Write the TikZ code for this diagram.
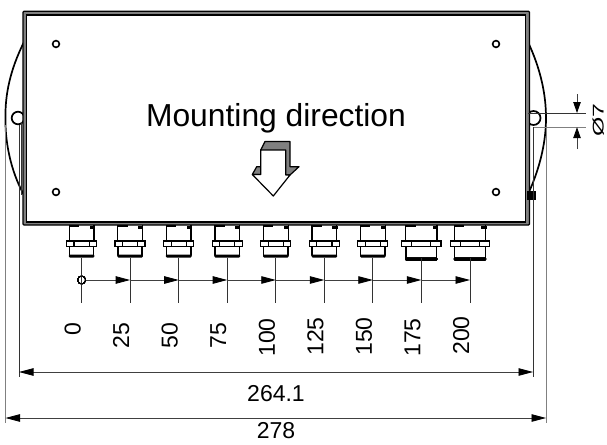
\documentclass[tikz,border=0pt]{standalone}
\usepackage{fontspec}
\setmainfont{Liberation Sans}
\usetikzlibrary{arrows.meta}
\tikzset{
  dimline/.style={line width=0.8pt,black!75},
  extline/.style={line width=0.8pt,black!80},
  greyline/.style={line width=1pt,black!50},
  dimarrow/.style={dimline,-{Triangle[length=14.5pt,width=7.5pt,fill=black,color=black]}},
  dimboth/.style={dimline,{Triangle[length=14.5pt,width=7.5pt,fill=black,color=black]}-{Triangle[length=14.5pt,width=7.5pt,fill=black,color=black]}},
  label/.style={font=\fontsize{23}{25}\selectfont,inner sep=0pt},
  rotlabel/.style={label,rotate=90,anchor=base east},
  heavy/.style={line width=1.7pt,black,line join=round},
  hole/.style={line width=1.7pt,black,fill=white}
}
\newcommand{\gland}[5]{% x, body half-width, flange half-width, inner half-width, bottom y
  \begin{scope}[shift={(#1,0)}]
    \draw[line width=1.4pt] (-#2,225) -- (-#2,241) (#2,225) -- (#2,241);
    \draw[line width=1.5pt,line join=round] (-#2+0.3,247) -- (-#2+0.3,#5-2) -- (#2-0.3,#5-2) -- (#2-0.3,247);
    \fill[rounded corners=1pt] (-#2-0.4,#5-3) rectangle (#2+0.4,#5);
    \draw[line width=1.3pt,fill=white] (-#3,241) rectangle (#3,246.7);
    \draw[line width=1.2pt] (-#4,241) -- (-#4,246.7) (#4,241) -- (#4,246.7);
    \draw[line width=1.3pt] (-#2,226) -- (-#2+10,226);
    \fill (#2-4.5,225.5) rectangle (#2+0.8,228.8);
  \end{scope}
}
\begin{document}
\begin{tikzpicture}[x=1pt,y=-1pt]
\useasboundingbox (0,0) rectangle (607,444);
% wings
\draw[heavy] (24,42) .. controls (10,70) and (5,95) .. (5.5,118) .. controls (5,140) and (10,170) .. (24,195);
\draw[heavy] (528,42) .. controls (541,70) and (546,95) .. (546,118) .. controls (546,140) and (541,165) .. (529,192);
% side holes
\draw[hole] (18,118) circle (6.3);
\draw[hole] (533.5,118) circle (7);
\draw[extline] (21.6,122) -- (21.6,195);
% box
\draw[line width=1.3pt,black,fill=black!50,rounded corners=1pt] (23,11.2) rectangle (529.5,225);
\draw[line width=1.3pt,black,fill=white] (26.8,15) rectangle (525.2,222);
\fill (527,191) rectangle (535.5,200);
% mounting holes
\foreach \n/\x/\y in {h1/56/44,h2/496/44,h3/56/192,h4/496/192}
  \draw[line width=1.6pt] (\x,\y) circle (3.4);
% title
\node[font=\fontsize{31.8}{34}\selectfont,inner sep=0pt,anchor=base] (title) at (276,126) {Mounting direction};
% mounting arrow
\draw[line width=1.2pt,line join=round,fill=black!50] (260.7,150) -- (265,141.5) -- (290,141.5) -- (290,166.7) -- (299,166.7) -- (290,175) -- (252.3,174.5) -- (256.7,166.7) -- (260.7,166.7) -- cycle;
\draw[line width=1.2pt,line join=round,fill=white] (260.7,150) -- (285.7,150) -- (285.7,175) -- (290,175) -- (273.3,196) -- (252.3,174.5) -- (260.7,174.5) -- cycle;
% glands
\foreach \x in {81.6,130.1,178.7,227.2,275.8,324.3,372.8} \gland{\x}{12.4}{15}{7.6}{257.5}
\foreach \x in {421.3,470} \gland{\x}{15.7}{19.6}{9.5}{260.5}
% positions
\foreach \n/\x in {p0/81.6,p1/130.1,p2/178.7,p3/227.2,p4/275.8,p5/324.3,p6/372.8,p7/421.3,p8/470}{
  \coordinate (\n) at (\x,280);
  \draw[extline] (\x,258) -- (\x,303);
}
\node[draw,circle,line width=0.7pt,minimum size=8pt,inner sep=0pt] (origin) at (p0) {};
\draw[dimarrow] (origin) -- (p1);
\draw[dimarrow] (p1) -- (p2);
\draw[dimarrow] (p2) -- (p3);
\draw[dimarrow] (p3) -- (p4);
\draw[dimarrow] (p4) -- (p5);
\draw[dimarrow] (p5) -- (p6);
\draw[dimarrow] (p6) -- (p7);
\draw[dimarrow] (p7) -- (p8);
\node[rotlabel] (l0) at (80.6,323) {0};
\node[rotlabel] (l1) at (129.1,323) {25};
\node[rotlabel] (l2) at (177.7,323) {50};
\node[rotlabel] (l3) at (226.2,323) {75};
\node[rotlabel] (l4) at (274.8,318) {100};
\node[rotlabel] (l5) at (323.3,317) {125};
\node[rotlabel] (l6) at (371.8,317) {150};
\node[rotlabel] (l7) at (420.3,318) {175};
\node[rotlabel] (l8) at (469,316) {200};
% overall dims
\coordinate (a1) at (19,372); \coordinate (a2) at (533,372);
\coordinate (b1) at (5.5,418); \coordinate (b2) at (546,418);
\draw[extline] (19,125) -- (19,377);
\draw[extline] (533,127) -- (533,377);
\draw[greyline] (5.5,125) -- (5.5,423);
\draw[greyline] (546,127) -- (546,423);
\draw[dimboth] (a1) -- (a2);
\draw[dimboth] (b1) -- (b2);
\node[label] (d1) at (276,393.5) {264.1};
\node[label] (d2) at (276,431) {278};
% hole dim
\coordinate (c1) at (577,113); \coordinate (c2) at (577,127.2);
\coordinate (c0) at (577,94); \coordinate (c3) at (577,149);
\draw[extline] (528,113) -- (586,113);
\draw[greyline] (534,127.2) -- (586,127.2);
\draw[dimarrow,-{Triangle[length=11pt,width=7.5pt,fill=black,color=black]}] (c0) -- (c1);
\draw[dimarrow,-{Triangle[length=11pt,width=7.5pt,fill=black,color=black]}] (c3) -- (c2);
\node[inner sep=0pt,rotate=90,anchor=base,font=\fontsize{15.5}{17}\selectfont] (d3) at (603.5,120) {\scalebox{1.6}[1]{Ø7}};
\end{tikzpicture}
\end{document}
